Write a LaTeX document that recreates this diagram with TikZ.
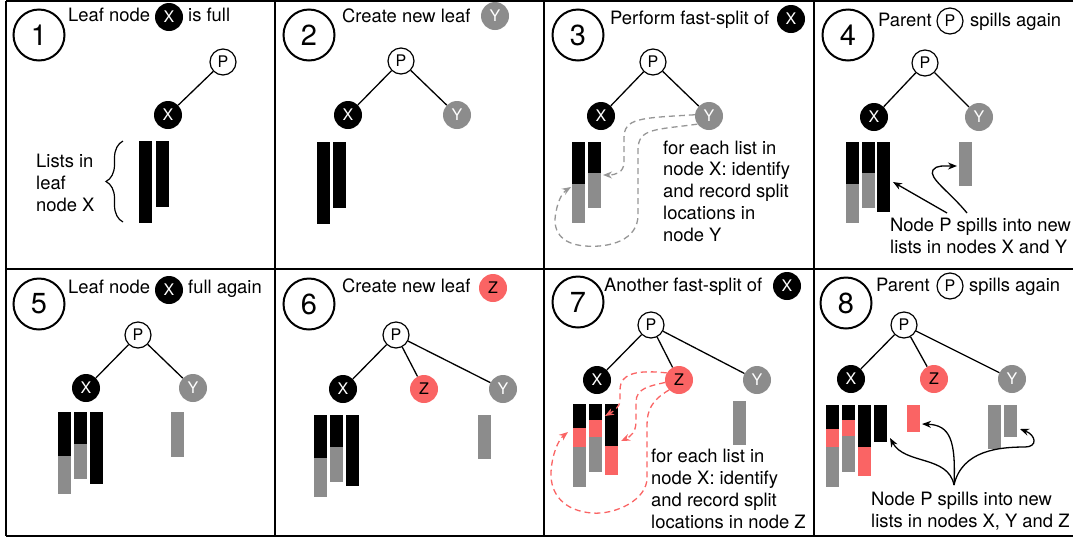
\documentclass[tikz,border=0pt]{standalone}
\usepackage{fontspec}
\setmainfont{TeX Gyre Heros}
\usetikzlibrary{arrows.meta,decorations.pathreplacing}

\definecolor{gry}{RGB}{140,140,140}
\definecolor{rd}{RGB}{250,100,100}
\definecolor{dgry}{RGB}{150,150,150}

\tikzset{
  lbl/.style={font=\fontsize{18.4}{21.7}\selectfont, inner sep=0pt, anchor=base west, align=left},
  num/.style={circle, draw, line width=2pt, minimum size=51pt, inner sep=0pt, font=\fontsize{29}{29}\selectfont},
  leaf/.style={circle, minimum size=28pt, inner sep=0pt, font=\fontsize{16}{16}\selectfont},
  xn/.style={leaf, fill=black, text=white},
  yn/.style={leaf, fill=gry, text=white},
  zn/.style={leaf, fill=rd, text=black},
  pn/.style={leaf, draw, line width=1.2pt, fill=white, minimum size=26pt},
  edge/.style={line width=1.3pt},
  frame/.style={line width=1.8pt},
  spill/.style={line width=1.3pt, -{Stealth[length=9pt,width=7pt]}},
  split/.style={line width=1.3pt, dash pattern=on 6pt off 4pt, -{Stealth[length=9pt,width=7pt]}},
}
\newcommand{\lseg}[4]{\fill[#1] (#2,#3) rectangle ({#2+13},#4);}

\begin{document}
\begin{tikzpicture}[x=1pt,y=-1pt]
    \useasboundingbox (0,0) rectangle (1073,539);

    %Marco
    \foreach \x in {6,275,544,814}
        \draw[frame] (\x,1) -- (\x,536);
    \foreach \y in {1,269,536}
        \draw[frame] (6,\y) -- (1073,\y);

    %Paso 1
    \node[num] (n1) at (39,35) {1};
    \node[lbl] (t1) at (68,21) {Leaf node};
    \node[xn] (t1x) at (169,17) {X};
    \node[lbl] (t1b) at (188,21) {is full};
    \node[pn] (P1) at (223,62) {P};
    \node[xn] (X1) at (168,115) {X};
    \draw[edge] (P1) -- (X1);
    \lseg{black}{139}{141}{223}
    \lseg{black}{156}{141}{207}
    \draw[decorate, decoration={brace, amplitude=17pt}, line width=1.2pt] (123,222) -- (123,141);
    \node[lbl] (l1) at (36,211) {Lists in\\leaf\\node X};

    %Paso 2
    \node[num] (n2) at (309,35) {2};
    \node[lbl] (t2) at (342,22) {Create new leaf};
    \node[yn] (t2y) at (495,16) {Y};
    \node[pn] (P2) at (401,61) {P};
    \node[xn] (X2) at (348,115) {X};
    \node[yn] (Y2) at (457,115) {Y};
    \draw[edge] (P2) -- (X2);
    \draw[edge] (P2) -- (Y2);
    \lseg{black}{317}{142}{224}
    \lseg{black}{333}{142}{208}

    %Paso 3
    \node[num] (n3) at (578,35) {3};
    \node[lbl] (t3) at (610,24) {Perform fast-split of};
    \node[xn] (t3x) at (791,19) {X};
    \node[pn] (P3) at (653,62) {P};
    \node[xn] (X3) at (601,116) {X};
    \node[yn] (Y3) at (709,116) {Y};
    \draw[edge] (P3) -- (X3);
    \draw[edge] (P3) -- (Y3);
    \lseg{black}{572}{142}{184}
    \lseg{gry}{572}{184}{223}
    \lseg{black}{588}{142}{173}
    \lseg{gry}{588}{173}{208}
    \coordinate (c3a) at (603,175);
    \coordinate (c3b) at (571,187);
    \draw[split, dgry] (Y3.175) .. controls (640,118) and (624,118) .. (624,138) -- (624,162) .. controls (624,173) and (615,175) .. (c3a);
    \draw[split, dgry] (Y3.215) .. controls (655,130) and (638,128) .. (638,150) -- (638,215) .. controls (638,240) and (610,248) .. (585,246) .. controls (560,244) and (552,230) .. (556,212) .. controls (558,200) and (563,192) .. (c3b);
    \node[lbl] (l3) at (663,241) {for each list in\\node X: identify\\and record split\\locations in\\node Y};

    %Paso 4
    \node[num] (n4) at (848,35) {4};
    \node[lbl] (t4) at (878,26) {Parent};
    \node[pn] (t4p) at (950,21) {P};
    \node[lbl] (t4b) at (970,26) {spills again};
    \node[pn] (P4) at (925,63) {P};
    \node[xn] (X4) at (874,117) {X};
    \node[yn] (Y4) at (979,117) {Y};
    \draw[edge] (P4) -- (X4);
    \draw[edge] (P4) -- (Y4);
    \lseg{black}{846}{142}{184}
    \lseg{gry}{846}{184}{223}
    \lseg{black}{862}{142}{173}
    \lseg{gry}{862}{173}{208}
    \lseg{black}{877}{142}{212}
    \lseg{gry}{959}{142}{186}
    \node[lbl] (l4) at (890,253) {Node P spills into new\\lists in nodes X and Y};
    \coordinate (s4a) at (947,213);
    \coordinate (s4b) at (967,213);
    \coordinate (c4a) at (893,182);
    \coordinate (c4b) at (957,166);
    \draw[spill] (s4a) -- (c4a);
    \draw[spill] (s4b) .. controls (950,192) and (928,178) .. (933,170) .. controls (936,165) and (945,166) .. (c4b);

    %Paso 5
    \node[num] (n5) at (39,304) {5};
    \node[lbl] (t5) at (68,293) {Leaf node};
    \node[xn] (t5x) at (169,290) {X};
    \node[lbl] (t5b) at (188,293) {full again};
    \node[pn] (P5) at (138,335) {P};
    \node[xn] (X5) at (86,388) {X};
    \node[yn] (Y5) at (193,388) {Y};
    \draw[edge] (P5) -- (X5);
    \draw[edge] (P5) -- (Y5);
    \lseg{black}{58}{412}{456}
    \lseg{gry}{58}{456}{494}
    \lseg{black}{74}{412}{444}
    \lseg{gry}{74}{444}{479}
    \lseg{black}{90}{412}{484}
    \lseg{gry}{171}{412}{457}

    %Paso 6
    \node[num] (n6) at (309,304) {6};
    \node[lbl] (t6) at (342,292) {Create new leaf};
    \node[zn] (t6z) at (493,288) {Z};
    \node[pn] (P6) at (396,335) {P};
    \node[xn] (X6) at (343,389) {X};
    \node[zn] (Z6) at (424,389) {Z};
    \node[yn] (Y6) at (503,389) {Y};
    \foreach \c in {X6,Z6,Y6}
        \draw[edge] (P6) -- (\c);
    \lseg{black}{314}{415}{458}
    \lseg{gry}{314}{458}{497}
    \lseg{black}{330}{415}{447}
    \lseg{gry}{330}{447}{482}
    \lseg{black}{346}{415}{486}
    \lseg{gry}{478}{415}{459}

    %Paso 7
    \node[num] (n7) at (578,302) {7};
    \node[lbl] (t7) at (604,291) {Another fast-split of};
    \node[xn] (t7x) at (787,286) {X};
    \node[pn] (P7) at (651,325) {P};
    \node[xn] (X7) at (597,380) {X};
    \node[zn] (Z7) at (679,380) {Z};
    \node[yn] (Y7) at (757,380) {Y};
    \foreach \c in {X7,Z7,Y7}
        \draw[edge] (P7) -- (\c);
    \lseg{black}{573}{404}{428}
    \lseg{rd}{573}{428}{447}
    \lseg{gry}{573}{447}{487}
    \lseg{black}{589}{404}{420}
    \lseg{rd}{589}{420}{437}
    \lseg{gry}{589}{437}{472}
    \lseg{black}{605}{404}{446}
    \lseg{rd}{605}{446}{475}
    \lseg{gry}{733}{401}{445}
    \coordinate (c7a) at (605,416);
    \coordinate (c7b) at (621,441);
    \coordinate (c7c) at (568,432);
    \draw[split, rd] (Z7.150) .. controls (640,370) and (620,372) .. (620,390) -- (620,400) .. controls (620,408) and (612,412) .. (c7a);
    \draw[split, rd] (Z7.190) .. controls (650,386) and (636,388) .. (636,402) -- (636,422) .. controls (636,432) and (630,437) .. (c7b);
    \draw[split, rd] (Z7.225) .. controls (652,400) and (647,410) .. (647,425) -- (647,478) .. controls (647,500) and (615,515) .. (592,513) .. controls (565,511) and (550,495) .. (551,472) .. controls (552,455) and (558,440) .. (c7c);
    \node[lbl] (l7) at (651,528) {for each list in\\node X: identify\\and record split\\locations in node Z};

    %Paso 8
    \node[num] (n8) at (846,303) {8};
    \node[lbl] (t8) at (876,291) {Parent};
    \node[pn] (t8p) at (950,286) {P};
    \node[lbl] (t8b) at (969,291) {spills again};
    \node[pn] (P8) at (904,325) {P};
    \node[xn] (X8) at (851,379) {X};
    \node[zn] (Z8) at (934,379) {Z};
    \node[yn] (Y8) at (1012,379) {Y};
    \foreach \c in {X8,Z8,Y8}
        \draw[edge] (P8) -- (\c);
    \lseg{black}{826}{405}{429}
    \lseg{rd}{826}{429}{447}
    \lseg{gry}{826}{447}{487}
    \lseg{black}{842}{405}{420}
    \lseg{rd}{842}{420}{436}
    \lseg{gry}{842}{436}{472}
    \lseg{black}{858}{405}{447}
    \lseg{rd}{858}{447}{476}
    \lseg{black}{874}{405}{442}
    \lseg{rd}{907}{405}{432}
    \lseg{gry}{988}{405}{449}
    \lseg{gry}{1004}{405}{437}
    \node[lbl] (l8) at (871,527) {Node P spills into new\\lists in nodes X, Y and Z};
    \coordinate (s8) at (954,485);
    \coordinate (c8a) at (890,438);
    \coordinate (c8b) at (922,424);
    \coordinate (c8c) at (1020,429);
    \draw[spill] (s8) .. controls (948,455) and (905,465) .. (c8a);
    \draw[spill] (s8) .. controls (956,440) and (950,425) .. (c8b);
    \draw[spill] (s8) .. controls (962,450) and (1000,447) .. (1025,447) .. controls (1038,447) and (1036,435) .. (c8c);

\end{tikzpicture}
\end{document}
